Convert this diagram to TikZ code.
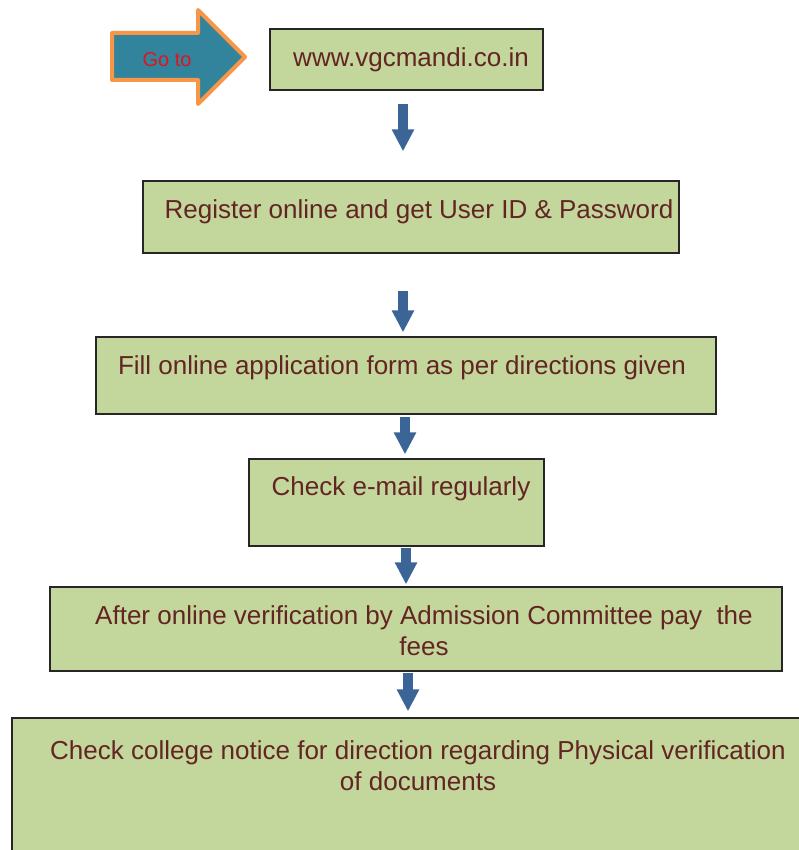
\documentclass[tikz,border=0pt]{standalone}
\usepackage{fontspec}
\setmainfont{Liberation Sans}
\usetikzlibrary{arrows.meta}
\definecolor{boxgreen}{HTML}{C3D69B}
\definecolor{txtred}{HTML}{632523}
\definecolor{goteal}{HTML}{31849B}
\definecolor{goorange}{HTML}{F79646}
\definecolor{gored}{HTML}{E0141E}
\definecolor{downblue}{HTML}{3B6597}
\tikzset{
    stepbox/.style={draw=black!85,line width=1.2pt,fill=boxgreen,inner sep=0pt},
    steptext/.style={text=txtred,font=\fontsize{26}{31}\selectfont,align=center,inner sep=0pt},
    gotext/.style={text=gored,font=\fontsize{20}{24}\selectfont,inner sep=0pt},
    goarrow/.style={draw=goorange,fill=goteal,line width=4pt,line join=round},
    down/.style={-{Triangle[length=22pt,width=21pt]},line width=10pt,draw=downblue}
}

\begin{document}
\begin{tikzpicture}[x=1pt,y=-1pt]
    \useasboundingbox (0,0) rectangle (799,850);

    % go to arrow
    \draw[goarrow] (112,33) -- (198,33) -- (198,10) -- (245,57) -- (198,104) -- (198,80) -- (112,80) -- cycle;
    \node[gotext] (goto) at (167,60) {Go to};

    % boxes
    \node[stepbox,minimum width=273pt,minimum height=61pt] (web) at (406.5,59.5) {};
    \node[stepbox,minimum width=536pt,minimum height=72pt] (reg) at (411,217) {};
    \node[stepbox,minimum width=620pt,minimum height=77pt] (form) at (406,375.5) {};
    \node[stepbox,minimum width=295pt,minimum height=87pt] (mail) at (396.5,502.5) {};
    \node[stepbox,minimum width=732pt,minimum height=84pt] (fee) at (416,629) {};
    \node[stepbox,minimum width=818pt,minimum height=162pt] (doc) at (421,799) {};

    % texts
    \node[steptext] (web text) at (411,60) {www.vgcmandi.co.in};
    \node[steptext] (reg text) at (419,212) {Register online and get User ID \& Password};
    \node[steptext] (form text) at (402,368) {Fill online application form as per directions given};
    \node[steptext] (mail text) at (401,489) {Check e-mail regularly};
    \node[steptext] (fee text) at (424,631) {After online verification by Admission Committee pay\ \ the\\fees};
    \node[steptext] (doc text) at (418,766) {Check college notice for direction regarding Physical verification\\of documents};

    % down arrows
    \draw[down] ([xshift=-3.5pt,yshift=-13pt]web.south) -- ([xshift=-8pt,yshift=29pt]reg.north);
    \draw[down] ([xshift=-8pt,yshift=-37pt]reg.south) -- ([xshift=-3pt,yshift=4pt]form.north);
    \draw[down] ([xshift=-1pt,yshift=-2pt]form.south) -- ([xshift=8.5pt,yshift=4pt]mail.north);
    \draw[down] ([xshift=9.5pt,yshift=-1pt]mail.south) -- ([xshift=-10pt,yshift=2pt]fee.north);
    \draw[down] ([xshift=-8pt,yshift=-1pt]fee.south) -- ([xshift=-13pt,yshift=6pt]doc.north);
\end{tikzpicture}
\end{document}
